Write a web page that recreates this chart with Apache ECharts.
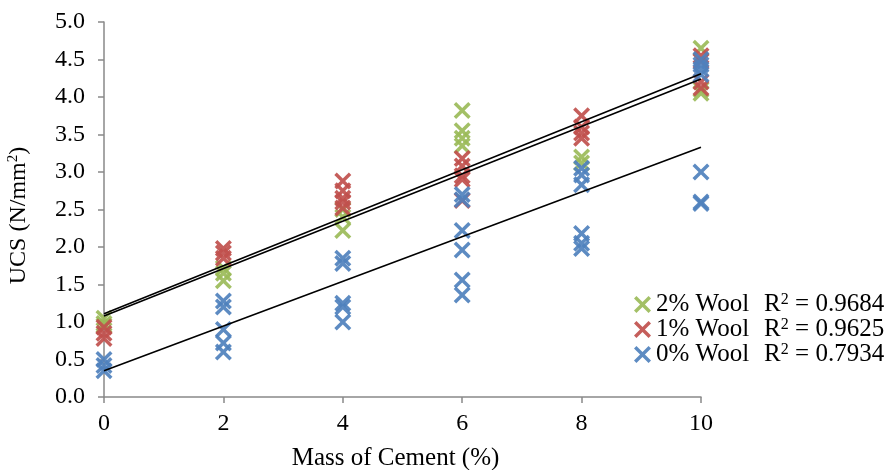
<!DOCTYPE html>
<html>
<head>
<meta charset="utf-8">
<script src="https://cdn.jsdelivr.net/npm/echarts@6/dist/echarts.min.js"></script>
<style>html,body{margin:0;padding:0;background:#fff}#c{width:894px;height:470px}</style>
</head>
<body>
<div id="c"></div>
<script>
var seriesNames = ['2% Wool', '1% Wool', '0% Wool'];
var r2Values = ['0.9684', '0.9625', '0.7934'];
var colors = ['#9BBB59', '#C0504D', '#4F81BD'];

var wool2X = [0,0,0, 2,2,2, 4,4,4, 6,6,6,6, 8,8, 10,10,10];
var wool2Y = [1.05,0.98,0.95, 1.72,1.65,1.55, 2.5,2.4,2.22, 3.82,3.55,3.45,3.35, 3.2,3.12, 4.65,4.05,4.1];

var wool1X = [0,0,0, 2,2,2, 4,4,4,4,4, 6,6,6,6,6, 8,8,8,8, 10,10,10,10];
var wool1Y = [0.93,0.85,0.78, 1.98,1.92,1.85, 2.88,2.75,2.65,2.6,2.52, 3.18,3.08,2.95,2.9,2.62, 3.75,3.6,3.52,3.45, 4.55,4.48,4.2,4.12];

var wool0X = [0,0,0, 2,2,2,2,2, 4,4,4,4,4, 6,6,6,6,6,6, 8,8,8,8,8,8, 10,10,10,10,10,10,10];
var wool0Y = [0.5,0.42,0.35, 1.28,1.2,0.9,0.72,0.6, 1.85,1.78,1.25,1.2,1.0, 2.7,2.63,2.22,1.96,1.56,1.36, 3.05,2.96,2.83,2.18,2.05,1.98, 4.5,4.43,4.37,4.3,3.0,2.6,2.58];

// trendline endpoints
var trendX = [0, 10];
var trend2Y = [1.11, 4.31];
var trend1Y = [1.08, 4.24];
var trend0Y = [0.35, 3.33];

var yTicks = ['0.0','0.5','1.0','1.5','2.0','2.5','3.0','3.5','4.0','4.5','5.0'];

function pairs(xs, ys) { return xs.map(function (x, i) { return [x, ys[i]]; }); }

var xPath = 'path://M0,2L2,0L7,5L12,0L14,2L9,7L14,12L12,14L7,9L2,14L0,12L5,7Z';
var font = 'Liberation Serif';

var scatterData = [pairs(wool2X, wool2Y), pairs(wool1X, wool1Y), pairs(wool0X, wool0Y)];
var trendData = [trend2Y, trend1Y, trend0Y];

var series = [];
seriesNames.forEach(function (n, i) {
  series.push({
    name: n, type: 'scatter', data: scatterData[i], symbol: xPath, symbolSize: 17,
    itemStyle: { color: colors[i], opacity: 0.92 }, z: 2 + i
  });
});
trendData.forEach(function (t, i) {
  series.push({
    name: 'trend' + i, type: 'line', data: pairs(trendX, t), symbol: 'none',
    lineStyle: { color: '#000', width: 1.6 }, z: 10, silent: true
  });
});

var chart = echarts.init(document.getElementById('c'));
chart.setOption({
  animation: false,
  backgroundColor: '#fff',
  grid: { left: 104, right: 193, top: 22, bottom: 73, outerBoundsMode: 'none', containLabel: false },
  xAxis: {
    type: 'value', min: 0, max: 10, interval: 2,
    name: 'Mass of Cement (%)', nameLocation: 'middle', nameGap: 49,
    nameTextStyle: { fontFamily: font, fontSize: 25, color: '#000', padding: [0, 14, 0, 0] },
    axisLine: { show: true, onZero: false, lineStyle: { color: '#898989', width: 1.5 } },
    axisTick: { show: true, length: 6, lineStyle: { color: '#898989', width: 1.5 } },
    axisLabel: { fontFamily: font, fontSize: 24, color: '#000', margin: 15 },
    splitLine: { show: false }
  },
  yAxis: {
    type: 'value', min: 0, max: 5, interval: 0.5,
    name: '{a|UCS (N/mm}{s|2}{a|)}', nameLocation: 'middle', nameGap: 73,
    nameTextStyle: { padding: [0, 12, 0, 0], rich: {
      a: { fontFamily: font, fontSize: 24, color: '#000' },
      s: { fontFamily: font, fontSize: 15, color: '#000', verticalAlign: 'top', padding: [0, 0, 10, 0] }
    } },
    axisLine: { show: true, lineStyle: { color: '#898989', width: 1.5 } },
    axisTick: { show: true, length: 6, lineStyle: { color: '#898989', width: 1.5 } },
    axisLabel: { fontFamily: font, fontSize: 24, color: '#000', margin: 19,
      formatter: function (v) { return yTicks[Math.round(v * 2)]; } },
    splitLine: { show: false }
  },
  legend: {
    data: seriesNames, orient: 'vertical', left: 634, top: 292, itemGap: 0, padding: 0,
    itemWidth: 17, itemHeight: 17, icon: xPath,
    formatter: function (n) {
      var i = seriesNames.indexOf(n);
      return '{a|' + n + '}{g|}{a|R}{s|2}{a| = ' + r2Values[i] + '}';
    },
    textStyle: { rich: {
      a: { fontFamily: font, fontSize: 25, color: '#000', verticalAlign: 'bottom', height: 25 },
      g: { width: 15 },
      s: { fontFamily: font, fontSize: 16, color: '#000', verticalAlign: 'top', padding: [0, 0, 8, 0] }
    } }
  },
  series: series
});
</script>
</body>
</html>
